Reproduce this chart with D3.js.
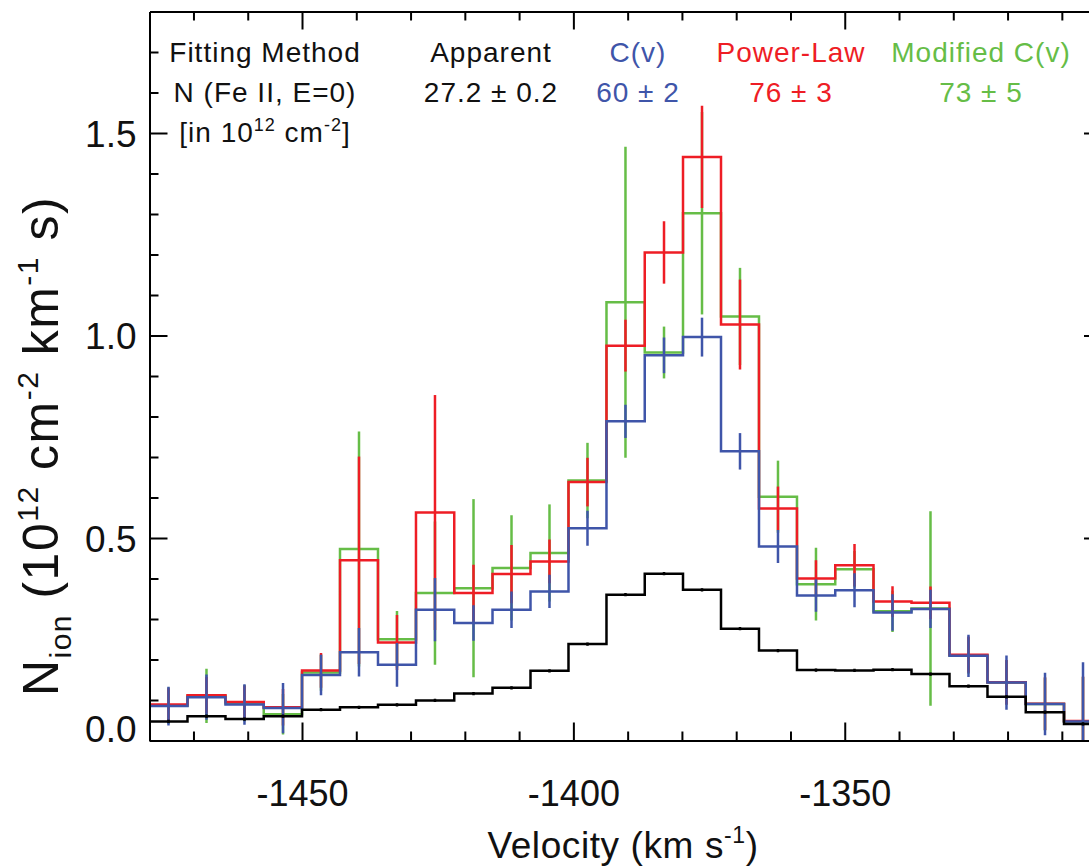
<!DOCTYPE html>
<html>
<head>
<meta charset="utf-8">
<script src="https://cdn.jsdelivr.net/npm/d3@7"></script>
<style>
  html, body { margin: 0; padding: 0; background: #fff; }
  svg { display: block; }
  text { font-family: "Liberation Sans", Arial, Helvetica, sans-serif; }
</style>
</head>
<body>
<div id="chart"></div>
<script>
// ---------------- data ----------------
const velocity = [-1474.6, -1467.6, -1460.6, -1453.5, -1446.5, -1439.5, -1432.5, -1425.5,
  -1418.4, -1411.4, -1404.4, -1397.4, -1390.4, -1383.3, -1376.3, -1369.3, -1362.3,
  -1355.3, -1348.2, -1341.2, -1334.2, -1327.2, -1320.2, -1313.1, -1306.1];

const apparent = [0.047, 0.060, 0.053, 0.060, 0.076, 0.082, 0.088, 0.099, 0.116, 0.130,
  0.172, 0.238, 0.360, 0.412, 0.372, 0.276, 0.222, 0.174, 0.173, 0.175, 0.164, 0.134,
  0.108, 0.070, 0.041];
const apparentErr = [0.004, 0.004, 0.004, 0.004, 0.004, 0.004, 0.004, 0.004, 0.004, 0.004,
  0.004, 0.004, 0.004, 0.004, 0.004, 0.004, 0.004, 0.004, 0.004, 0.004, 0.004, 0.004,
  0.004, 0.004, 0.004];

const cv = [0.085, 0.107, 0.089, 0.080, 0.162, 0.218, 0.187, 0.323, 0.290, 0.323, 0.368,
  0.524, 0.788, 0.951, 0.996, 0.714, 0.479, 0.358, 0.371, 0.316, 0.325, 0.209, 0.143,
  0.090, 0.047];
const cvErr = [0.048, 0.056, 0.050, 0.062, 0.050, 0.060, 0.054, 0.078, 0.044, 0.045, 0.041,
  0.043, 0.041, 0.044, 0.048, 0.045, 0.041, 0.040, 0.042, 0.045, 0.047, 0.052, 0.067,
  0.077, 0.146];

const powerLaw = [0.089, 0.112, 0.095, 0.082, 0.173, 0.445, 0.242, 0.563, 0.364, 0.411,
  0.442, 0.638, 0.975, 1.205, 1.441, 1.027, 0.573, 0.400, 0.433, 0.343, 0.340, 0.212,
  0.144, 0.091, 0.048];
const powerLawErr = [0.040, 0.045, 0.040, 0.045, 0.043, 0.256, 0.068, 0.290, 0.070, 0.072,
  0.054, 0.060, 0.064, 0.077, 0.126, 0.111, 0.054, 0.045, 0.052, 0.038, 0.040, 0.045,
  0.055, 0.065, 0.110];

const modifiedCv = [0.086, 0.110, 0.092, 0.065, 0.168, 0.473, 0.250, 0.364, 0.376, 0.426,
  0.463, 0.642, 1.082, 0.958, 1.302, 1.047, 0.602, 0.386, 0.423, 0.319, 0.326, 0.210,
  0.143, 0.090, 0.047];
const modifiedCvErr = [0.045, 0.067, 0.045, 0.050, 0.045, 0.290, 0.070, 0.177, 0.220, 0.130,
  0.120, 0.093, 0.384, 0.064, 0.250, 0.120, 0.089, 0.090, 0.045, 0.051, 0.240, 0.045,
  0.055, 0.065, 0.110];

const xMajorTicks = [-1450, -1400, -1350];
const xMinorTicks = [-1470, -1460, -1440, -1430, -1420, -1410, -1390, -1380, -1370, -1360,
  -1340, -1330, -1320, -1310];
const yMajorTicks = [0.0, 0.5, 1.0, 1.5];
const yMinorTicks = [0.1, 0.2, 0.3, 0.4, 0.6, 0.7, 0.8, 0.9, 1.1, 1.2, 1.3, 1.4, 1.6, 1.7];

const headerMethods = ["Apparent", "C(v)", "Power-Law", "Modified C(v)"];
const headerValues = ["27.2 \u00b1 0.2", "60 \u00b1 2", "76 \u00b1 3", "73 \u00b1 5"];

(function () {
// ---------------- layout ----------------
const W = 1089, H = 867;
const pL = 149.5, pR = 1102, pT = 11.5, pB = 740.5;
const colors = { apparent: "#000000", cv: "#3f55a9", power: "#ee1d25", modified: "#66bd47" };

const svg = d3.select("#chart").append("svg").attr("width", W).attr("height", H);

const x = d3.scaleLinear().domain([-1478.1, -1302.6]).range([pL, pR]);
const y = d3.scaleLinear().domain([0, 1.8]).range([pB, pT]);

svg.append("defs").append("clipPath").attr("id", "plotclip")
  .append("rect").attr("x", pL).attr("y", pT)
  .attr("width", pR - pL).attr("height", pB - pT);

const plot = svg.append("g").attr("clip-path", "url(#plotclip)");

function edges(i) {
  const v = velocity;
  const lo = i === 0 ? v[0] - (v[1] - v[0]) / 2 : (v[i - 1] + v[i]) / 2;
  const hi = i === v.length - 1 ? v[i] + (v[i] - v[i - 1]) / 2 : (v[i] + v[i + 1]) / 2;
  return [lo, hi];
}

function stepPoints(vals) {
  const pts = [];
  vals.forEach((val, i) => {
    const [lo, hi] = edges(i);
    pts.push([lo, val], [hi, val]);
  });
  return pts;
}

const line = d3.line().x(d => x(d[0])).y(d => y(d[1]));

function drawSeries(vals, errs, color, width) {
  plot.append("path")
    .attr("d", line(stepPoints(vals)))
    .attr("fill", "none")
    .attr("stroke", color)
    .attr("stroke-width", width)
    .attr("stroke-linejoin", "miter");
  plot.append("g").selectAll("line")
    .data(vals.map((val, i) => ({ v: velocity[i], val, err: errs[i] })))
    .join("line")
    .attr("x1", d => x(d.v)).attr("x2", d => x(d.v))
    .attr("y1", d => y(d.val - d.err)).attr("y2", d => y(d.val + d.err))
    .attr("stroke", color)
    .attr("stroke-width", width);
}

drawSeries(modifiedCv, modifiedCvErr, colors.modified, 2.5);
drawSeries(powerLaw, powerLawErr, colors.power, 2.5);
drawSeries(cv, cvErr, colors.cv, 2.5);
drawSeries(apparent, apparentErr, colors.apparent, 2.5);

// ---------------- axes ----------------
function styleAxis(g) {
  g.selectAll(".domain").attr("stroke", "#000").attr("stroke-width", 2);
  g.selectAll(".tick line").attr("stroke", "#000").attr("stroke-width", 2);
  g.attr("font-family", null).attr("font-size", null);
}

const axes = svg.append("g");

// bottom
axes.append("g").attr("transform", `translate(0,${pB})`)
  .call(d3.axisBottom(x).tickValues(xMinorTicks).tickSizeInner(-9).tickSizeOuter(0).tickFormat(""))
  .call(styleAxis);
const bAxis = axes.append("g").attr("transform", `translate(0,${pB})`)
  .call(d3.axisBottom(x).tickValues(xMajorTicks).tickSizeInner(-18).tickSizeOuter(0)
    .tickPadding(40).tickFormat(d => String(d)))
  .call(styleAxis);
bAxis.selectAll(".tick text")
  .attr("font-size", 36).attr("fill", "#111").attr("dy", "0.71em")
  .attr("y", 40);

// top
axes.append("g").attr("transform", `translate(0,${pT})`)
  .call(d3.axisTop(x).tickValues(xMinorTicks).tickSizeInner(-9).tickSizeOuter(0).tickFormat(""))
  .call(styleAxis);
axes.append("g").attr("transform", `translate(0,${pT})`)
  .call(d3.axisTop(x).tickValues(xMajorTicks).tickSizeInner(-18).tickSizeOuter(0).tickFormat(""))
  .call(styleAxis);

// left
axes.append("g").attr("transform", `translate(${pL},0)`)
  .call(d3.axisLeft(y).tickValues(yMinorTicks).tickSizeInner(-9).tickSizeOuter(0).tickFormat(""))
  .call(styleAxis);
const lAxis = axes.append("g").attr("transform", `translate(${pL},0)`)
  .call(d3.axisLeft(y).tickValues(yMajorTicks).tickSizeInner(-18).tickSizeOuter(0)
    .tickPadding(13).tickFormat(d3.format(".1f")))
  .call(styleAxis);
lAxis.selectAll(".tick text")
  .attr("font-size", 37).attr("fill", "#111")
  .attr("dy", d => d === 0 ? "0.03em" : "0.36em");

// right
axes.append("g").attr("transform", `translate(${pR},0)`)
  .call(d3.axisRight(y).tickValues(yMinorTicks).tickSizeInner(-9).tickSizeOuter(0).tickFormat(""))
  .call(styleAxis);
axes.append("g").attr("transform", `translate(${pR},0)`)
  .call(d3.axisRight(y).tickValues(yMajorTicks).tickSizeInner(-18).tickSizeOuter(0).tickFormat(""))
  .call(styleAxis);

// ---------------- axis titles ----------------
const xt = svg.append("text")
  .attr("x", 623).attr("y", 858)
  .attr("text-anchor", "middle").attr("font-size", 37).attr("letter-spacing", 0.6)
  .attr("fill", "#111");
xt.append("tspan").text("Velocity (km s");
xt.append("tspan").attr("font-size", 23).attr("dy", -15).text("-1");
xt.append("tspan").attr("dy", 15).text(")");

const yt = svg.append("text")
  .attr("transform", "translate(58,446) rotate(-90)")
  .attr("text-anchor", "middle").attr("font-size", 50).attr("letter-spacing", 1.5)
  .attr("fill", "#111");
yt.append("tspan").text("N");
yt.append("tspan").attr("font-size", 30).attr("dy", 13).text("ion");
yt.append("tspan").attr("dy", -13).text(" (10");
yt.append("tspan").attr("font-size", 30).attr("dy", -20).text("12");
yt.append("tspan").attr("dy", 20).text(" cm");
yt.append("tspan").attr("font-size", 30).attr("dy", -20).text("-2");
yt.append("tspan").attr("dy", 20).text(" km");
yt.append("tspan").attr("font-size", 30).attr("dy", -20).text("-1");
yt.append("tspan").attr("dy", 20).text(" s)");

// ---------------- header table ----------------
const hdrSize = 28;
const hdrSpacing = 1;
const row1 = 62, row2 = 102, row3 = 142;
const colX = [265, 491, 638, 791, 981];
const colColors = ["#111", "#111", colors.cv, colors.power, colors.modified];

function hdr(xp, yp, fill) {
  return svg.append("text").attr("x", xp).attr("y", yp).attr("text-anchor", "middle")
    .attr("font-size", hdrSize).attr("letter-spacing", hdrSpacing).attr("fill", fill);
}

hdr(colX[0], row1, "#111").text("Fitting Method");
hdr(colX[0], row2, "#111").text("N (Fe II, E=0)");
const r3 = hdr(colX[0], row3, "#111");
r3.append("tspan").text("[in 10");
r3.append("tspan").attr("font-size", 18).attr("dy", -11).text("12");
r3.append("tspan").attr("dy", 11).text(" cm");
r3.append("tspan").attr("font-size", 18).attr("dy", -11).text("-2");
r3.append("tspan").attr("dy", 11).text("]");

headerMethods.forEach((m, i) => {
  hdr(colX[i + 1], row1, colColors[i + 1]).text(m);
  hdr(colX[i + 1], row2, colColors[i + 1]).text(headerValues[i]);
});
})();
</script>
</body>
</html>
